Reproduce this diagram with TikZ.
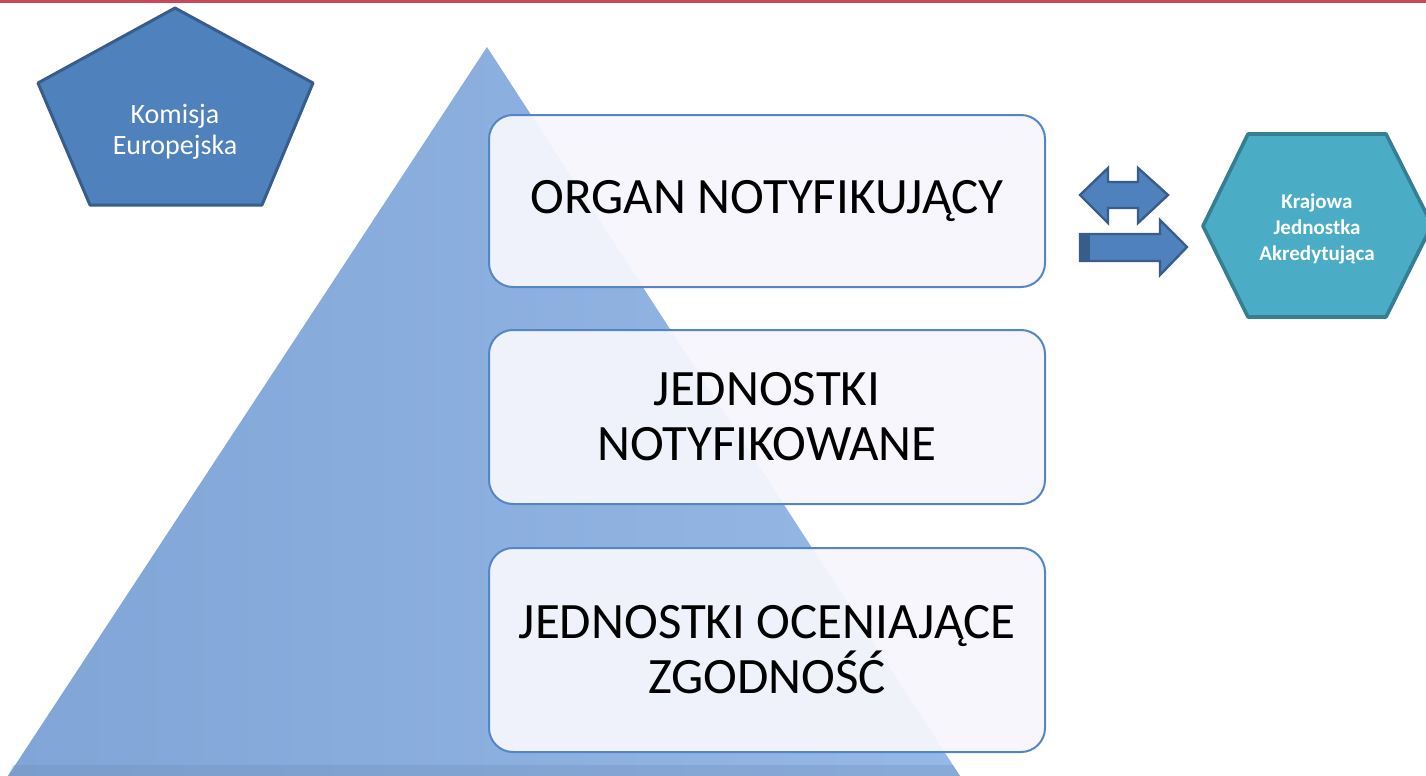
\documentclass[tikz,border=0pt]{standalone}
\usepackage{fontspec}
\setmainfont{Carlito}
\definecolor{topline}{RGB}{200,72,92}
\definecolor{trifill}{RGB}{128,165,214}
\definecolor{trilight}{RGB}{150,184,230}
\definecolor{lvlline}{RGB}{86,133,197}
\definecolor{lvlfill}{RGB}{245,246,252}
\definecolor{kefill}{RGB}{79,129,189}
\definecolor{keline}{RGB}{56,93,138}
\definecolor{pcafill}{RGB}{75,172,198}
\definecolor{pcaline}{RGB}{54,126,146}
\begin{document}
\begin{tikzpicture}[x=.5pt,y=-.5pt,
 lvl/.style={draw=lvlline, line width=1pt, rounded corners=12pt, fill=lvlfill, fill opacity=.95, text opacity=1,
  minimum width=278pt, align=center, font=\fontsize{25.5}{27.5}\selectfont},
 blk/.style={fill=kefill, draw=keline, line width=1.2pt, line join=miter}]
\useasboundingbox (0,0) rectangle (1426,776);
\draw[topline, line width=1.5pt] (0,1)--(1426,1);
% piramida
\shade[left color=trifill, right color=trilight, shading angle=90] (487,47) -- (960,776) -- (8,776) -- cycle;
\fill[trifill!85!black, opacity=.3] (8,776) -- (13,765) -- (953,765) -- (960,776) -- cycle;
% poziomy
\node[lvl, minimum height=86pt] (organ) at (767,201) {ORGAN NOTYFIKUJĄCY};
\node[lvl, minimum height=87pt] (notyf) at (767,417) {JEDNOSTKI\\NOTYFIKOWANE};
\node[lvl, minimum height=102pt] (ocena) at (767,650) {JEDNOSTKI OCENIAJĄCE\\ZGODNOŚĆ};
% Komisja
\draw[fill=kefill, draw=keline, line width=1.5pt, line join=round] (175,8) -- (313,83) -- (262,205) -- (90,205) -- (38,83) -- cycle;
\node[white, align=center, font=\fontsize{14}{15.5}\selectfont] (komisja) at (175,132) {Komisja\\Europejska};
% PCA
\draw[fill=pcafill, draw=pcaline, line width=1.8pt, line join=round] (1248,134) -- (1386,134) -- (1432,225) -- (1386,317) -- (1248,317) -- (1203,226) -- cycle;
\node[white, align=center, font=\bfseries\fontsize{10.5}{13}\selectfont] (pca) at (1317,229) {Krajowa\\Jednostka\\Akredytująca};
% strzalki
\draw[blk] (1080,195) -- (1108,168) -- (1108,182) -- (1138,182) -- (1138,168) -- (1168,195) -- (1138,223) -- (1138,208) -- (1108,208) -- (1108,223) -- cycle;
\draw[blk] (1080,234) -- (1160,234) -- (1160,220) -- (1187,247) -- (1160,275) -- (1160,261) -- (1080,261) -- cycle;
\fill[keline] (1080,234) rectangle (1090,261);
\end{tikzpicture}
\end{document}
